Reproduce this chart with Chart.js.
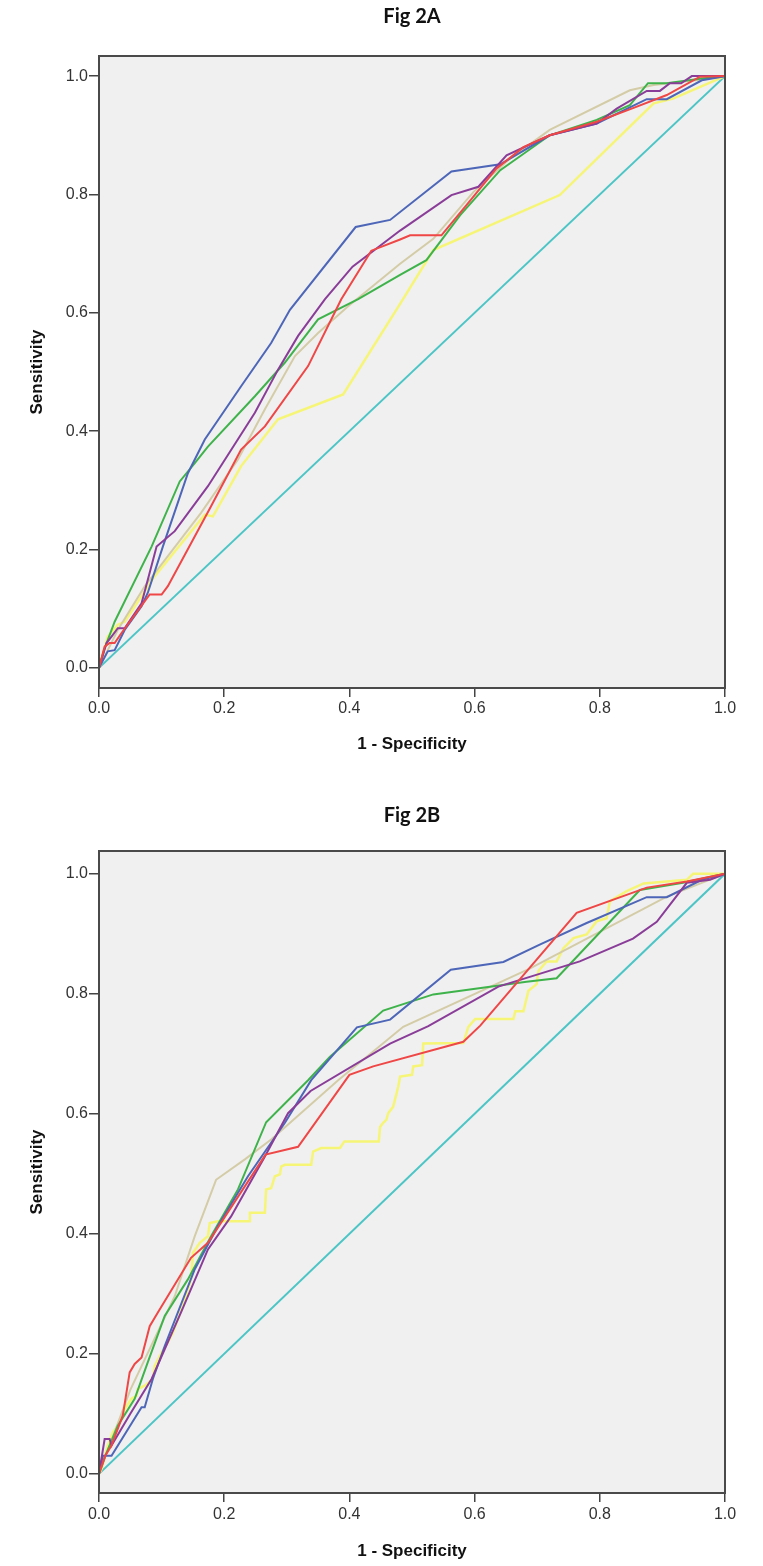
<!DOCTYPE html>
<html><head><meta charset="utf-8">
<script src="https://cdn.jsdelivr.net/npm/chart.js@4.4.1/dist/chart.umd.min.js"></script>
<style>
html,body{margin:0;padding:0;background:#fff;}
#wrap{position:relative;width:763px;height:1566px;overflow:hidden;}
canvas{position:absolute;left:0;}
</style></head><body>
<div id="wrap">
<canvas id="cA" width="763" height="770" style="top:0px"></canvas>
<canvas id="cB" width="763" height="771" style="top:795px"></canvas>
</div>
<script>
// ---- tick values / labels ----
const xTicks = [0, 0.2, 0.4, 0.6, 0.8, 1.0];
const xTickLabels = ['0.0', '0.2', '0.4', '0.6', '0.8', '1.0'];
const yTicks = [0, 0.2, 0.4, 0.6, 0.8, 1.0];
const yTickLabels = ['0.0', '0.2', '0.4', '0.6', '0.8', '1.0'];
const titles = ['Fig 2A', 'Fig 2B'];
const xTitle = '1 - Specificity';
const yTitle = 'Sensitivity';

// ---- Fig 2A series: [1 - specificity, sensitivity] ----
const a_blue = [[0,0],[0.014,0.028],[0.025,0.03],[0.041,0.064],[0.068,0.104],[0.078,0.127],[0.102,0.205],[0.142,0.329],[0.169,0.386],[0.227,0.476],[0.275,0.549],[0.305,0.605],[0.41,0.745],[0.465,0.757],[0.563,0.839],[0.641,0.851],[0.72,0.9],[0.795,0.92],[0.875,0.961],[0.907,0.961],[0.963,0.993],[1,1]];
const a_green = [[0,0],[0.008,0.03],[0.025,0.078],[0.084,0.205],[0.129,0.315],[0.153,0.346],[0.174,0.374],[0.249,0.459],[0.297,0.516],[0.35,0.589],[0.414,0.623],[0.481,0.664],[0.523,0.689],[0.577,0.765],[0.641,0.841],[0.72,0.9],[0.795,0.926],[0.848,0.951],[0.877,0.988],[0.907,0.988],[0.963,0.996],[1,1]];
const a_purple = [[0,0],[0.012,0.042],[0.02,0.053],[0.03,0.067],[0.041,0.067],[0.068,0.109],[0.092,0.205],[0.121,0.231],[0.174,0.307],[0.249,0.431],[0.286,0.504],[0.318,0.561],[0.361,0.623],[0.405,0.678],[0.481,0.739],[0.563,0.799],[0.606,0.813],[0.651,0.866],[0.72,0.9],[0.795,0.92],[0.827,0.945],[0.875,0.975],[0.896,0.975],[0.912,0.988],[0.93,0.988],[0.947,1],[1,1]];
const a_red = [[0,0],[0.009,0.036],[0.017,0.042],[0.025,0.042],[0.036,0.059],[0.081,0.124],[0.1,0.124],[0.11,0.138],[0.179,0.273],[0.227,0.369],[0.265,0.408],[0.334,0.51],[0.387,0.623],[0.435,0.705],[0.481,0.724],[0.497,0.731],[0.547,0.731],[0.587,0.782],[0.635,0.844],[0.678,0.88],[0.72,0.9],[0.795,0.923],[0.853,0.946],[0.907,0.968],[0.96,0.999],[1,1]];
const a_beige = [[0,0],[0.03,0.064],[0.073,0.138],[0.163,0.262],[0.222,0.352],[0.265,0.437],[0.313,0.527],[0.35,0.566],[0.398,0.611],[0.481,0.683],[0.534,0.725],[0.598,0.804],[0.657,0.861],[0.72,0.909],[0.848,0.976],[0.886,0.985],[0.96,0.994],[1,1]];
const a_yellow = [[0,0],[0.014,0.053],[0.03,0.073],[0.041,0.078],[0.089,0.155],[0.169,0.259],[0.182,0.256],[0.227,0.341],[0.286,0.42],[0.39,0.462],[0.481,0.615],[0.534,0.706],[0.736,0.799],[0.886,0.954],[0.917,0.962],[1,1]];
const a_ref = [[0,0],[1,1]];

// ---- Fig 2B series ----
const b_blue = [[0,0],[0.006,0.03],[0.02,0.03],[0.068,0.111],[0.073,0.111],[0.086,0.158],[0.105,0.213],[0.153,0.341],[0.19,0.413],[0.238,0.496],[0.297,0.585],[0.339,0.656],[0.412,0.744],[0.465,0.757],[0.562,0.84],[0.646,0.853],[0.704,0.882],[0.779,0.918],[0.875,0.961],[0.907,0.961],[0.963,0.99],[1,1]];
const b_green = [[0,0],[0.01,0.03],[0.03,0.08],[0.057,0.125],[0.078,0.186],[0.105,0.263],[0.142,0.324],[0.179,0.396],[0.222,0.474],[0.267,0.586],[0.334,0.656],[0.369,0.695],[0.454,0.772],[0.534,0.799],[0.683,0.82],[0.731,0.826],[0.864,0.973],[0.933,0.985],[1,1]];
const b_purple = [[0,0],[0.009,0.058],[0.017,0.058],[0.02,0.047],[0.05,0.1],[0.084,0.158],[0.131,0.269],[0.174,0.374],[0.211,0.429],[0.265,0.529],[0.302,0.601],[0.338,0.638],[0.465,0.717],[0.526,0.746],[0.638,0.812],[0.768,0.854],[0.853,0.892],[0.891,0.92],[0.939,0.985],[0.976,0.99],[1,1]];
const b_red = [[0,0],[0.01,0.03],[0.02,0.047],[0.038,0.097],[0.049,0.169],[0.057,0.183],[0.068,0.194],[0.081,0.246],[0.094,0.269],[0.147,0.36],[0.174,0.385],[0.266,0.532],[0.318,0.545],[0.4,0.665],[0.438,0.679],[0.582,0.72],[0.609,0.747],[0.763,0.935],[0.875,0.977],[0.939,0.987],[1,1]];
const b_beige = [[0,0],[0.05,0.14],[0.121,0.296],[0.153,0.396],[0.187,0.49],[0.233,0.524],[0.275,0.557],[0.382,0.656],[0.486,0.745],[0.688,0.842],[0.907,0.962],[1,1]];
const b_yellow = [[0,0],[0.004,0.008],[0.014,0.047],[0.022,0.069],[0.03,0.08],[0.041,0.108],[0.052,0.125],[0.06,0.13],[0.062,0.141],[0.073,0.147],[0.086,0.158],[0.089,0.18],[0.1,0.202],[0.11,0.219],[0.118,0.235],[0.126,0.258],[0.134,0.28],[0.142,0.307],[0.147,0.324],[0.15,0.368],[0.161,0.385],[0.174,0.396],[0.177,0.418],[0.19,0.421],[0.241,0.421],[0.241,0.435],[0.265,0.435],[0.267,0.474],[0.275,0.476],[0.281,0.496],[0.289,0.499],[0.291,0.512],[0.297,0.515],[0.339,0.515],[0.342,0.537],[0.355,0.543],[0.385,0.543],[0.392,0.554],[0.447,0.554],[0.449,0.578],[0.454,0.585],[0.459,0.59],[0.462,0.601],[0.47,0.612],[0.478,0.645],[0.481,0.662],[0.5,0.665],[0.502,0.679],[0.516,0.681],[0.518,0.717],[0.582,0.718],[0.587,0.735],[0.59,0.745],[0.601,0.758],[0.662,0.758],[0.665,0.771],[0.678,0.771],[0.686,0.805],[0.699,0.816],[0.702,0.838],[0.715,0.854],[0.731,0.854],[0.742,0.876],[0.758,0.893],[0.779,0.899],[0.795,0.921],[0.811,0.926],[0.816,0.954],[0.843,0.971],[0.87,0.984],[0.939,0.99],[0.949,1],[1,1]];
const b_ref = [[0,0],[1,1]];

const seriesA = [a_red, a_purple, a_blue, a_green, a_beige, a_yellow, a_ref];
const seriesB = [b_red, b_purple, b_blue, b_green, b_beige, b_yellow, b_ref];
const lineColors = ['#ef4646', '#8a3d98', '#4d66b8', '#3fb34b', '#d4cca6', '#f6f576', '#4cc5c6'];
const lineWidths = [2, 2, 2, 2, 2, 2.5, 2];

const FONT = "'Liberation Sans', Arial, sans-serif";

const framePlugin = {
  id: 'frame',
  beforeDraw(chart) {
    const {ctx, chartArea: a} = chart;
    ctx.save();
    ctx.fillStyle = '#f0f0f0';
    ctx.fillRect(a.left, a.top, a.right - a.left, a.bottom - a.top);
    ctx.restore();
  },
  afterDatasetsDraw(chart) {
    const {ctx, chartArea: a} = chart;
    ctx.save();
    ctx.strokeStyle = '#4a4a4a';
    ctx.lineWidth = 2;
    ctx.strokeRect(a.left, a.top, a.right - a.left, a.bottom - a.top);
    ctx.restore();
  }
};

function makeChart(id, title, series, cfg) {
  const datasets = series.map((s, i) => ({
    data: s.map(p => ({x: p[0], y: p[1]})),
    borderColor: lineColors[i],
    borderWidth: lineWidths[i],
    pointRadius: 0,
    fill: false,
    tension: 0
  }));
  return new Chart(document.getElementById(id), {
    type: 'line',
    data: {datasets},
    plugins: [framePlugin],
    options: {
      responsive: false,
      animation: false,
      devicePixelRatio: 1,
      layout: {padding: {left: 0, right: 38, top: 0, bottom: 0}},
      plugins: {
        legend: {display: false},
        tooltip: {enabled: false},
        title: {
          display: true, text: title, fullSize: false,
          color: '#111',
          font: {family: "Lato, 'Open Sans', sans-serif", size: 20, weight: 'bold'},
          padding: {top: cfg.titleTop, bottom: 56 - cfg.titleTop - 24}
        }
      },
      scales: {
        x: {
          type: 'linear', min: 0, max: 1,
          afterBuildTicks: s => { s.ticks = xTicks.map(v => ({value: v})); },
          afterFit: s => { s.height = cfg.xAxisH; },
          ticks: {
            callback: (v, i) => xTickLabels[i],
            font: {family: FONT, size: 16}, color: '#333',
            padding: cfg.xPad, maxRotation: 0, autoSkip: false
          },
          grid: {drawOnChartArea: false, drawTicks: true, tickLength: 9, color: '#444', lineWidth: 1.5},
          border: {display: false},
          title: {
            display: true, text: xTitle, color: '#111',
            font: {family: FONT, size: 17, weight: 'bold'},
            padding: {top: 0, bottom: cfg.xTitlePb}
          }
        },
        y: {
          type: 'linear', min: cfg.yMin, max: cfg.yMax,
          afterBuildTicks: s => { s.ticks = yTicks.map(v => ({value: v})); },
          afterFit: s => { s.width = 99; },
          ticks: {
            callback: (v, i) => yTickLabels[i],
            font: {family: FONT, size: 16}, color: '#333',
            padding: 1, autoSkip: false
          },
          grid: {drawOnChartArea: false, drawTicks: true, tickLength: 10, color: '#444', lineWidth: 1.5},
          border: {display: false},
          title: {
            display: true, text: yTitle, color: '#111',
            font: {family: FONT, size: 17, weight: 'bold'},
            padding: {top: 27, bottom: 0}
          }
        }
      }
    }
  });
}

makeChart('cA', titles[0], seriesA, {titleTop: 5, xAxisH: 82, xPad: 2, xTitlePb: 15, yMin: -0.034, yMax: 1.034});
makeChart('cB', titles[1], seriesB, {titleTop: 9, xAxisH: 73, xPad: 3, xTitlePb: 4, yMin: -0.032, yMax: 1.038});
</script>
</body></html>
